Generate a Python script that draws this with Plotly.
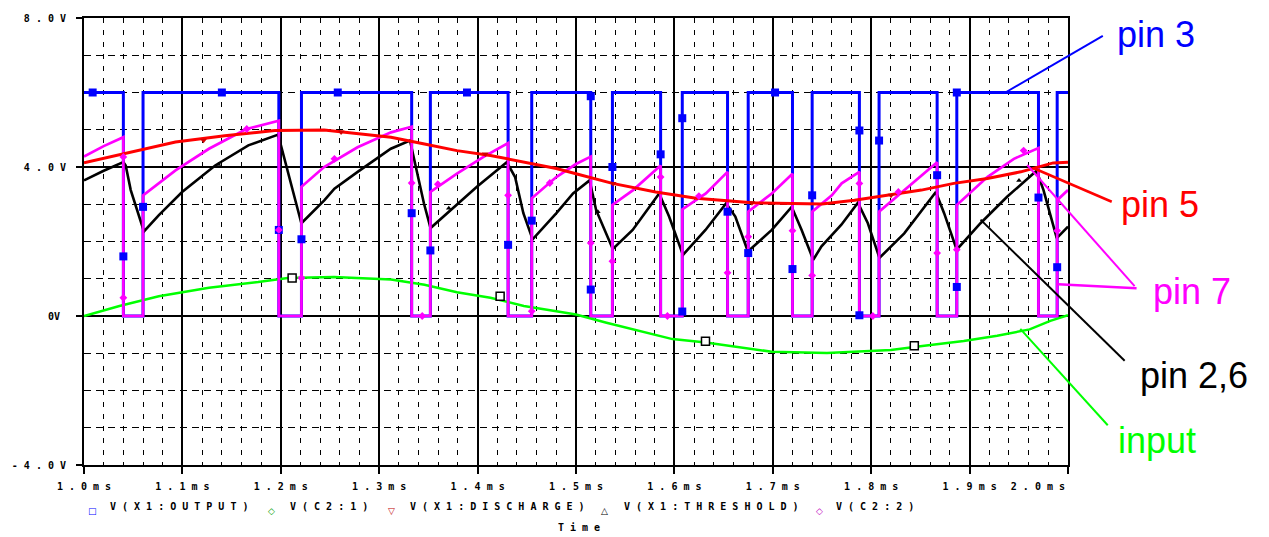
import plotly.graph_objects as go

# ---------------- data (time in ms, voltage in V) ----------------
# pin 3 : V(X1:OUTPUT)
blue_t = [1.000, 1.040, 1.040, 1.060, 1.060, 1.198, 1.198, 1.221, 1.221, 1.333, 1.333,
          1.352, 1.352, 1.431, 1.431, 1.455, 1.455, 1.515, 1.515, 1.537, 1.537, 1.586,
          1.586, 1.608, 1.608, 1.654, 1.654, 1.675, 1.675, 1.720, 1.720, 1.740, 1.740,
          1.788, 1.788, 1.808, 1.808, 1.867, 1.867, 1.887, 1.887, 1.970, 1.970, 1.989,
          1.989, 2.000]
blue_v = [6, 6, 0, 0, 6, 6, 0, 0, 6, 6, 0,
          0, 6, 6, 0, 0, 6, 6, 0, 0, 6, 6,
          0, 0, 6, 6, 0, 0, 6, 6, 0, 0, 6,
          6, 0, 0, 6, 6, 0, 0, 6, 6, 0, 0,
          6, 6]

# pin 7 : discharge
mag_t = [1.000, 1.020, 1.040, 1.040, 1.060, 1.060, 1.093, 1.127, 1.165, 1.198, 1.198,
         1.221, 1.221, 1.244, 1.278, 1.312, 1.333, 1.333, 1.352, 1.352, 1.379, 1.406,
         1.431, 1.431, 1.455, 1.455, 1.480, 1.500, 1.515, 1.515, 1.537, 1.537, 1.558,
         1.586, 1.586, 1.608, 1.608, 1.632, 1.654, 1.654, 1.675, 1.675, 1.699, 1.720,
         1.720, 1.740, 1.740, 1.750, 1.760, 1.770, 1.788, 1.788, 1.808, 1.808, 1.834,
         1.867, 1.867, 1.887, 1.887, 1.918, 1.945, 1.970, 1.970, 1.989, 1.989, 2.000]
mag_v = [4.28, 4.56, 4.80, 0.00, 0.00, 3.24, 3.91, 4.49, 5.02, 5.24, 0.00,
         0.00, 3.47, 4.00, 4.53, 4.93, 5.08, 0.00, 0.00, 3.33, 3.82, 4.27,
         4.64, 0.00, 0.00, 3.16, 3.73, 4.08, 4.28, 0.00, 0.00, 2.98, 3.38,
         4.04, 0.00, 0.00, 2.86, 3.29, 3.87, 0.00, 0.00, 2.80, 3.29, 3.82,
         0.00, 0.00, 2.80, 3.02, 3.24, 3.56, 3.87, 0.00, 0.00, 2.80, 3.38,
         4.13, 0.00, 0.00, 2.98, 3.73, 4.22, 4.51, 0.00, 0.00, 3.11, 3.38]

# pin 2,6 : threshold / capacitor
blk_t = [1.0000, 1.0200, 1.0400, 1.0424, 1.0475, 1.0542, 1.0609, 1.0761, 1.0997, 1.1333,
         1.1670, 1.1973, 1.2040, 1.2141, 1.2209, 1.2444, 1.2545, 1.2781, 1.3118, 1.3313,
         1.3371, 1.3455, 1.3522, 1.3724, 1.3993, 1.4296, 1.4381, 1.4465, 1.4559, 1.4801,
         1.4970, 1.5138, 1.5205, 1.5374, 1.5576, 1.5845, 1.5946, 1.6087, 1.6316, 1.6525,
         1.6619, 1.6747, 1.6990, 1.7192, 1.7293, 1.7411, 1.7495, 1.7697, 1.7865, 1.7966,
         1.8084, 1.8336, 1.8657, 1.8741, 1.8869, 1.9111, 1.9381, 1.9680, 1.9751, 1.9886,
         2.0000]
blk_v = [3.64, 3.90, 4.13, 4.04, 3.38, 2.85, 2.27, 2.71, 3.33, 4.04,
         4.58, 4.87, 4.18, 3.11, 2.49, 3.11, 3.42, 3.87, 4.49, 4.71,
         4.00, 3.02, 2.36, 2.84, 3.47, 4.13, 3.73, 2.76, 2.06, 2.76,
         3.29, 3.64, 2.84, 1.80, 2.31, 3.29, 2.67, 1.64, 2.31, 3.02,
         2.67, 1.73, 2.31, 2.93, 2.31, 1.51, 1.87, 2.45, 3.04, 2.49,
         1.56, 2.22, 3.33, 2.76, 1.78, 2.49, 3.20, 3.90, 3.38, 2.09,
         2.40]

# pin 5 : control voltage
red_t = [1.000, 1.042, 1.093, 1.143, 1.194, 1.244, 1.278, 1.312, 1.346, 1.379, 1.413,
         1.447, 1.480, 1.500, 1.537, 1.581, 1.622, 1.679, 1.750, 1.783, 1.817, 1.851,
         1.884, 1.918, 1.952, 1.985, 2.000]
red_v = [4.11, 4.37, 4.67, 4.84, 4.98, 4.99, 4.90, 4.80, 4.62, 4.44, 4.31,
         4.13, 3.96, 3.82, 3.56, 3.33, 3.16, 3.04, 3.01, 3.11, 3.24, 3.38,
         3.56, 3.69, 3.87, 4.11, 4.13]

# input : V(C2:1)
grn_t = [1.000, 1.036, 1.076, 1.127, 1.177, 1.207, 1.254, 1.312, 1.346, 1.379, 1.413,
         1.447, 1.480, 1.500, 1.531, 1.564, 1.598, 1.632, 1.665, 1.699, 1.755, 1.820,
         1.854, 1.894, 1.928, 1.961, 1.982, 2.000]
grn_v = [0.00, 0.27, 0.53, 0.76, 0.91, 1.02, 1.05, 0.98, 0.84, 0.64, 0.49,
         0.27, 0.13, 0.04, -0.18, -0.40, -0.62, -0.71, -0.84, -0.96, -0.99, -0.91,
         -0.80, -0.67, -0.53, -0.36, -0.13, 0.02]

# plot markers
blue_mk_t = [1.0088, 1.040, 1.060, 1.1401, 1.198, 1.221, 1.2579, 1.333, 1.352, 1.3892,
             1.431, 1.455, 1.515, 1.515, 1.537, 1.586, 1.608, 1.608, 1.654, 1.675,
             1.7023, 1.720, 1.740, 1.788, 1.788, 1.808, 1.867, 1.887, 1.887, 1.970, 1.989]
blue_mk_v = [6.0, 1.60, 2.93, 6.0, 2.31, 2.06, 6.0, 2.76, 1.76, 6.0,
             1.91, 2.56, 5.90, 0.71, 4.00, 4.34, 5.31, 0.12, 2.80, 1.69,
             6.0, 1.26, 3.24, 4.98, 0.02, 4.71, 3.78, 6.0, 0.78, 3.18, 1.31]
mag_mk_t = [1.040, 1.040, 1.1654, 1.198, 1.221, 1.2545, 1.333, 1.3437, 1.3596, 1.431,
            1.455, 1.4734, 1.515, 1.537, 1.586, 1.5929, 1.6249, 1.654, 1.675, 1.720,
            1.740, 1.788, 1.8017, 1.8276, 1.867, 1.887, 1.9549, 1.989]
mag_mk_v = [4.27, 0.49, 5.02, 2.31, 1.02, 4.22, 3.57, 0.00, 3.54, 3.24,
            0.13, 3.57, 1.96, 1.47, 3.73, 0.00, 3.22, 1.16, 2.13, 2.29,
            1.09, 3.56, 0.00, 3.33, 1.69, 1.78, 4.44, 2.29]
grn_mk_t = [1.2115, 1.4229, 1.6316, 1.8438]
grn_mk_v = [1.02, 0.53, -0.68, -0.80]
red_mk_t = [1.1215, 1.2613, 1.4078, 1.5377, 1.6788, 1.8202]
red_mk_v = [4.72, 4.94, 4.35, 3.56, 3.04, 3.24]
blk_mk_t = [1.1367, 1.3707, 1.5222, 1.9502]
blk_mk_v = [4.07, 2.89, 2.80, 3.64]

# axis ticks
NB = "\u00a0"
x_tickvals = [1.0, 1.1, 1.2, 1.3, 1.4, 1.5, 1.6, 1.7, 1.8, 1.9, 2.0]
x_ticktext = ["1 . 0 m s", "1 . 1 m s", "1 . 2 m s", "1 . 3 m s", "1 . 4 m s",
              "1 . 5 m s", "1 . 6 m s", "1 . 7 m s", "1 . 8 m s", "1 . 9 m s",
              "2 . 0 m s" + NB * 10]
y_tickvals = [-4, 0, 4, 8]
y_ticktext = ["- 4 . 0 V", "0V" + NB, "4 . 0 V", "8 . 0 V"]

legend_labels = ["V ( X 1 : O U T P U T )", "V ( C 2 : 1 )", "V ( X 1 : D I S C H A R G E )",
                 "V ( X 1 : T H R E S H O L D )", "V ( C 2 : 2 )"]
legend_symbols = ["□", "◇", "▽", "△", "◇"]
legend_colors = ["#0000FF", "#00A000", "#C00000", "#000000", "#C000C0"]

pin_labels = ["pin 3", "pin 5", "pin 7", "pin 2,6", "input"]
pin_colors = ["#0000FF", "#FF0000", "#FF00FF", "#000000", "#00FF00"]

# ---------------- layout helpers (pixel -> paper) ----------------
W, H = 1269, 537
L, R, T, B = 78, 201, 15, 72
PW, PH = W - L - R, H - T - B


def px(x):
    return (x - L) / PW


def py(y):
    return (H - B - y) / PH


def bold(s):
    return "<b>" + s + "</b>"


fig = go.Figure()

fig.add_trace(go.Scatter(x=blue_t, y=blue_v, mode="lines", line=dict(color="#0000FF", width=3)))
fig.add_trace(go.Scatter(x=grn_t, y=grn_v, mode="lines", line=dict(color="#00FF00", width=2.5)))
fig.add_trace(go.Scatter(x=blk_t, y=blk_v, mode="lines", line=dict(color="#000000", width=2.6)))
fig.add_trace(go.Scatter(x=mag_t, y=mag_v, mode="lines", line=dict(color="#FF00FF", width=2.7)))
fig.add_trace(go.Scatter(x=red_t, y=red_v, mode="lines", line=dict(color="#FF0000", width=3)))

fig.add_trace(go.Scatter(x=blue_mk_t, y=blue_mk_v, mode="markers",
                         marker=dict(symbol="square", size=8, color="#0000FF")))
fig.add_trace(go.Scatter(x=mag_mk_t, y=mag_mk_v, mode="markers",
                         marker=dict(symbol="diamond", size=6, color="#FF00FF")))
fig.add_trace(go.Scatter(x=grn_mk_t, y=grn_mk_v, mode="markers",
                         marker=dict(symbol="square", size=8, color="white",
                                     line=dict(color="black", width=1.5))))
fig.add_trace(go.Scatter(x=red_mk_t, y=red_mk_v, mode="markers",
                         marker=dict(symbol="triangle-down", size=6, color="#D00000")))
fig.add_trace(go.Scatter(x=blk_mk_t, y=blk_mk_v, mode="markers",
                         marker=dict(symbol="triangle-up", size=5, color="#000000")))

tick_font = dict(family="DejaVu Sans Mono", size=10, color="black")

fig.update_layout(
    width=W, height=H,
    margin=dict(l=L, r=R, t=T, b=B, pad=0),
    paper_bgcolor="white", plot_bgcolor="white",
    showlegend=False,
    hovermode=False,
    xaxis=dict(
        range=[1.0, 2.0], tickvals=x_tickvals, ticktext=[bold(s) for s in x_ticktext],
        showgrid=True, gridcolor="black", gridwidth=1.5,
        zeroline=False, showline=True, linecolor="black", linewidth=2, mirror=True,
        ticks="outside", ticklen=7, tickwidth=1.5, tickcolor="black",
        tickfont=tick_font, tickangle=0, ticklabelstandoff=4,
        minor=dict(dtick=0.02, tick0=1.0, showgrid=True, gridcolor="black",
                   gridwidth=1, griddash="5px,7px"),
    ),
    yaxis=dict(
        range=[-4, 8], tickvals=y_tickvals, ticktext=[bold(s) for s in y_ticktext],
        showgrid=True, gridcolor="black", gridwidth=1.5,
        zeroline=False, showline=True, linecolor="black", linewidth=2, mirror=True,
        ticks="outside", ticklen=6, tickwidth=1.5, tickcolor="black",
        tickfont=tick_font, ticklabelstandoff=8,
        minor=dict(dtick=1, tick0=0, showgrid=True, gridcolor="black",
                   gridwidth=1, griddash="7px,5px"),
    ),
)

# legend row (PSpice style) and axis title
legend_sym_x = [87, 267, 387, 602, 818]
legend_txt_x = [102, 283, 404, 619, 833]
for sx, tx, sym, col, lab in zip(legend_sym_x, legend_txt_x, legend_symbols, legend_colors, legend_labels):
    fig.add_annotation(x=px(sx), y=py(511), xref="paper", yref="paper", text=bold(sym),
                       showarrow=False, xanchor="center", yanchor="middle",
                       font=dict(family="DejaVu Sans", size=9, color=col))
    fig.add_annotation(x=px(tx), y=py(507), xref="paper", yref="paper", text=bold(lab),
                       showarrow=False, xanchor="left", yanchor="middle",
                       font=tick_font)
fig.add_annotation(x=px(576), y=py(528), xref="paper", yref="paper", text=bold("T i m e"),
                   showarrow=False, xanchor="center", yanchor="middle", font=tick_font)

# pin call-outs
pin_pos = [(1157, 32), (1161, 203), (1193, 290), (1195, 375), (1158, 440)]
for (cx, cy), lab, col in zip(pin_pos, pin_labels, pin_colors):
    fig.add_annotation(x=px(cx), y=py(cy), xref="paper", yref="paper", text=lab,
                       showarrow=False, xanchor="center", yanchor="middle",
                       font=dict(family="Liberation Sans", size=36, color=col))

pointers = [((1005, 90), (1103, 33), "#0000FF", 2),
            ((1033, 166), (1112, 200), "#FF0000", 2.5),
            ((1058, 283), (1137, 287), "#FF00FF", 2.5),
            ((1027, 163), (1135, 285), "#FF00FF", 2),
            ((980, 218), (1125, 360), "#000000", 2),
            ((1020, 328), (1108, 425), "#00FF00", 2)]
for (x0, y0), (x1, y1), col, w in pointers:
    fig.add_shape(type="line", xref="paper", yref="paper",
                  x0=px(x0), y0=py(y0), x1=px(x1), y1=py(y1),
                  line=dict(color=col, width=w))

fig.write_html("out.html")
